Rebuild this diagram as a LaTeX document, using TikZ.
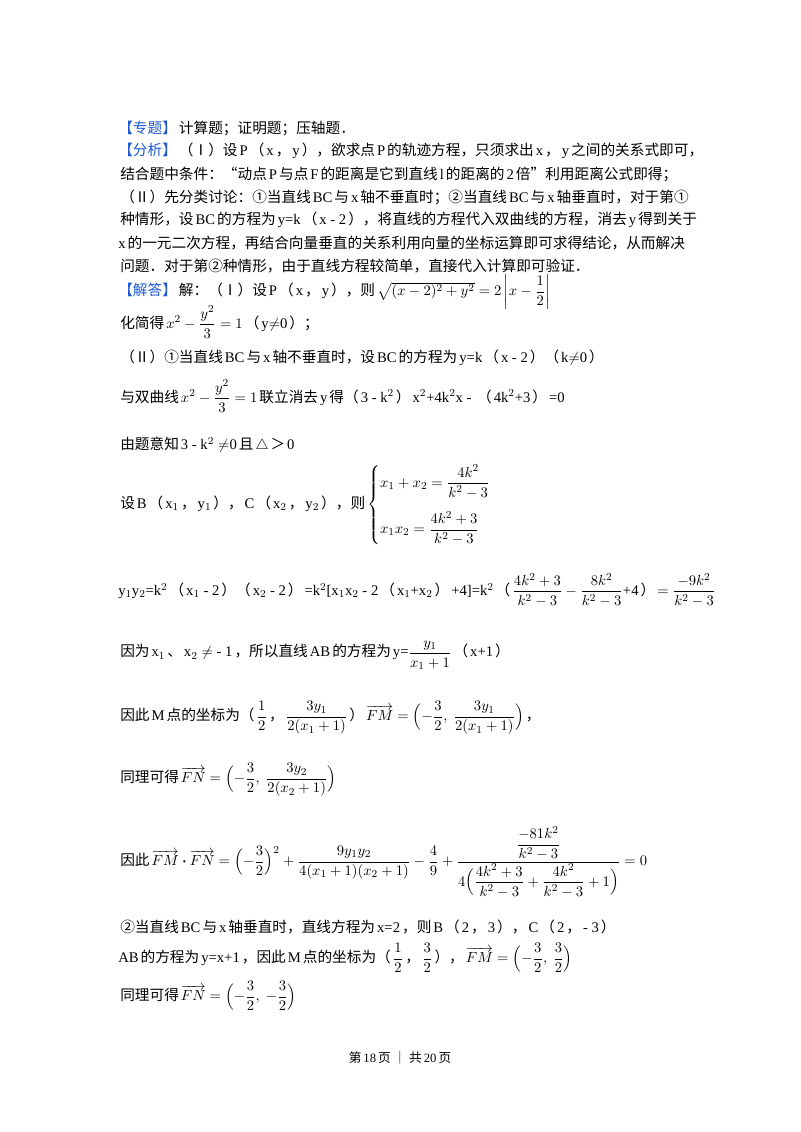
\documentclass[tikz,border=0pt]{standalone}
\usepackage{amsmath}
\usepackage{fontspec}
\setmainfont{Liberation Serif}
\newfontfamily\cjk{Noto Sans CJK SC}
\newcommand{\zh}[1]{\kern1.5pt{\cjk #1}\kern1.5pt}
\definecolor{hdblue}{RGB}{30,90,210}
\newcommand{\hd}[1]{{\color{hdblue}\cjk #1}}
\begin{document}
\begin{tikzpicture}[x=0.75pt,y=-0.75pt,
  ln/.style={anchor=west,inner sep=0pt,font=\fontsize{11}{13}\selectfont}]
\useasboundingbox (0,0) rectangle (800,1132);
\fill[white] (0,0) rectangle (800,1132);
\node[ln] (l1) at (118,128) {\hd{【专题】}\zh{计算题；证明题；压轴题．}};
\node[ln] (l2) at (118,151) {\hd{【分析】}\zh{（Ⅰ）设}P\zh{（}x\zh{，}y\zh{），欲求点}P\zh{的轨迹方程，只须求出}x\zh{，}y\zh{之间的关系式即可，}};
\node[ln] (l3) at (118,174) {\zh{结合题中条件：“动点}P\zh{与点}F\zh{的距离是它到直线}l\zh{的距离的}2\zh{倍”利用距离公式即得；}};
\node[ln] (l4) at (118,197) {\zh{（Ⅱ）先分类讨论：①当直线}BC\zh{与}x\zh{轴不垂直时；②当直线}BC\zh{与}x\zh{轴垂直时，对于第①}};
\node[ln] (l5) at (118,220) {\zh{种情形，设}BC\zh{的方程为}y=k\zh{（}x - 2\zh{），将直线的方程代入双曲线的方程，消去}y\zh{得到关于}};
\node[ln] (l6) at (118,243) {x\zh{的一元二次方程，再结合向量垂直的关系利用向量的坐标运算即可求得结论，从而解决}};
\node[ln] (l7) at (118,266) {\zh{问题．对于第②种情形，由于直线方程较简单，直接代入计算即可验证．}};
\node[ln] (l8) at (118,292) {\hd{【解答】}\zh{解：（Ⅰ）设}P\zh{（}x\zh{，}y\zh{），则}$\sqrt{(x-2)^2+y^2}=2\left|x-\dfrac12\right|$};
\node[ln] (l9) at (118,322) {\zh{化简得}$x^2-\dfrac{y^2}{3}=1$\zh{（}y$\neq$0\zh{）；}};
\node[ln] (l10) at (118,358) {\zh{（Ⅱ）①当直线}BC\zh{与}x\zh{轴不垂直时，设}BC\zh{的方程为}y=k\zh{（}x - 2\zh{）（}k$\neq$0\zh{）}};
\node[ln] (l11) at (118,396) {\zh{与双曲线}$x^2-\dfrac{y^2}{3}=1$\zh{联立消去}y\zh{得（}3 - k$^2$\zh{）}x$^2$+4k$^2$x - \zh{（}4k$^2$+3\zh{）}=0};
\node[ln] (l12) at (118,445) {\zh{由题意知}3 - k$^2\neq$0\zh{且}$\triangle$\zh{＞}0};
\node[ln] (l13) at (118,505) {\zh{设}B\zh{（}x$_1$\zh{，}y$_1$\zh{），}C\zh{（}x$_2$\zh{，}y$_2$\zh{），则}$\left\{\begin{aligned}&x_1+x_2=\dfrac{4k^2}{k^2-3}\\[6pt]&x_1x_2=\dfrac{4k^2+3}{k^2-3}\end{aligned}\right.$};
\node[ln] (l14) at (118,590) {y$_1$y$_2$=k$^2$\zh{（}x$_1$ - 2\zh{）（}x$_2$ - 2\zh{）}=k$^2$[x$_1$x$_2$ - 2\zh{（}x$_1$+x$_2$\zh{）}+4]=k$^2$\zh{（}$\dfrac{4k^2+3}{k^2-3}-\dfrac{8k^2}{k^2-3}$+4\zh{）}$=\dfrac{-9k^2}{k^2-3}$};
\node[ln] (l15) at (118,655) {\zh{因为}x$_1$\zh{、}x$_2\neq$ - 1\zh{，所以直线}AB\zh{的方程为}y=$\dfrac{y_1}{x_1+1}$\zh{（}x+1\zh{）}};
\node[ln] (l16) at (118,718) {\zh{因此}M\zh{点的坐标为（}$\dfrac12$\zh{，}$\dfrac{3y_1}{2(x_1+1)}$\zh{）}$\overrightarrow{FM}=\Bigl(-\dfrac32,\ \dfrac{3y_1}{2(x_1+1)}\Bigr)$\zh{，}};
\node[ln] (l17) at (118,780) {\zh{同理可得}$\overrightarrow{FN}=\Bigl(-\dfrac32,\ \dfrac{3y_2}{2(x_2+1)}\Bigr)$};
\node[ln] (l18) at (118,862) {\zh{因此}$\overrightarrow{FM}\boldsymbol{\cdot}\overrightarrow{FN}=\Bigl(-\dfrac32\Bigr)^2+\dfrac{9y_1y_2}{4(x_1+1)(x_2+1)}-\dfrac49+\dfrac{\dfrac{-81k^2}{k^2-3}}{4\Bigl(\dfrac{4k^2+3}{k^2-3}+\dfrac{4k^2}{k^2-3}+1\Bigr)}=0$};
\node[ln] (l19) at (118,927) {\zh{②当直线}BC\zh{与}x\zh{轴垂直时，直线方程为}x=2\zh{，则}B\zh{（}2\zh{，}3\zh{），}C\zh{（}2\zh{，}- 3\zh{）}};
\node[ln] (l20) at (118,958) {AB\zh{的方程为}y=x+1\zh{，因此}M\zh{点的坐标为（}$\dfrac12$\zh{，}$\dfrac32$\zh{），}$\overrightarrow{FM}=\Bigl(-\dfrac32,\ \dfrac32\Bigr)$};
\node[ln] (l21) at (118,996) {\zh{同理可得}$\overrightarrow{FN}=\Bigl(-\dfrac32,\ -\dfrac32\Bigr)$};
\node[inner sep=0pt,font=\fontsize{9.5}{12}\selectfont] (ft) at (400,1058) {\zh{第}18\zh{页 ｜ 共}20\zh{页}};
\end{tikzpicture}
\end{document}
